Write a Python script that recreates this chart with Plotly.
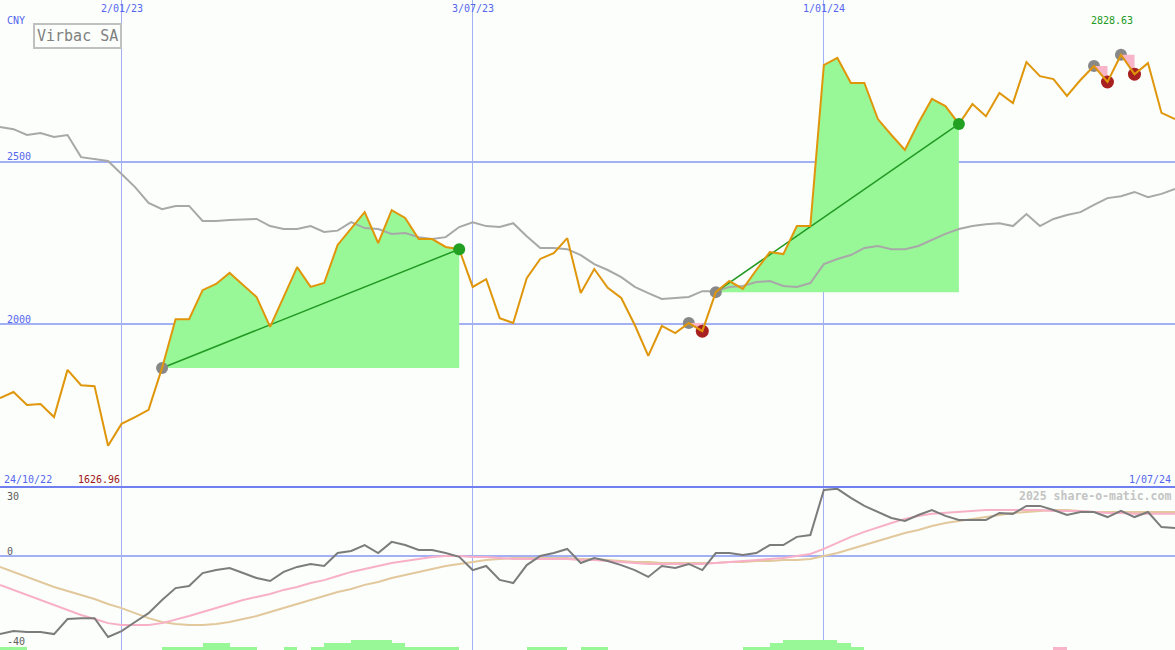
import plotly.graph_objects as go

# ---------------- data (weekly points, index 0 = 24/10/22 ... 87 = 1/07/24) -------------
price = [1773, 1792, 1752, 1755, 1715, 1860, 1813, 1810, 1626.96, 1694,
         1715, 1737, 1866, 2016, 2016, 2105, 2124, 2158, 2121, 2084,
         1992, 2084, 2176, 2115, 2127, 2244, 2293, 2345, 2250, 2351,
         2327, 2262, 2262, 2238, 2231, 2115, 2139, 2019, 2004, 2142,
         2201, 2219, 2265, 2096, 2170, 2112, 2081, 1998, 1903, 1995,
         1973, 2004, 1979, 2099, 2133, 2109, 2167, 2222, 2216, 2302,
         2302, 2797, 2819, 2742, 2742, 2631, 2582, 2536, 2619, 2693,
         2671, 2616, 2677, 2640, 2711, 2680, 2806, 2763, 2754, 2702,
         2751, 2794, 2745, 2828.63, 2769, 2803, 2650, 2631]

moving_avg = [2607, 2600, 2582, 2588, 2576, 2582, 2514, 2508, 2502, 2462,
              2422, 2373, 2354, 2364, 2364, 2318, 2318, 2321, 2322, 2324,
              2302, 2293, 2293, 2302, 2284, 2288, 2314, 2296, 2293, 2278,
              2281, 2268, 2262, 2268, 2299, 2314, 2302, 2299, 2311, 2271,
              2235, 2235, 2231, 2213, 2185, 2167, 2145, 2115, 2096, 2078,
              2081, 2084, 2102, 2102, 2115, 2118, 2130, 2133, 2118, 2115,
              2127, 2185, 2201, 2213, 2235, 2241, 2231, 2231, 2241, 2259,
              2278, 2293, 2302, 2308, 2311, 2302, 2339, 2302, 2324, 2336,
              2345, 2367, 2388, 2394, 2407, 2391, 2401, 2416]

osc = [-34.3, -33.0, -33.4, -33.4, -34.3, -27.7, -27.3, -27.3, -35.6, -33.0,
       -29.0, -25.1, -19.3, -14.1, -13.2, -7.5, -6.2, -5.3, -7.5, -9.7,
       -11.0, -7.0, -4.8, -3.5, -4.4, 1.3, 2.2, 4.8, 1.3, 6.2,
       4.8, 2.6, 2.6, 1.3, -0.4, -6.2, -4.4, -10.5, -11.9, -4.0,
       0.0, 1.3, 3.1, -3.1, -0.9, -2.2, -4.0, -6.2, -9.2, -4.4,
       -5.3, -3.5, -6.2, 1.3, 1.3, 0.4, 1.3, 4.8, 4.8, 8.4,
       9.2, 29.0, 29.5, 25.5, 22.0, 19.3, 16.7, 15.4, 18.0, 20.2,
       17.6, 15.8, 15.8, 15.8, 18.9, 18.5, 22.0, 22.0, 20.2, 18.0,
       19.3, 19.3, 17.1, 19.8, 17.1, 19.3, 12.7, 12.3]

osc_fast = [-12.7, -14.9, -17.1, -19.3, -21.5, -23.7, -25.9, -27.7, -29.5, -30.3,
            -30.3, -30.3, -29.5, -28.1, -26.4, -24.6, -22.9, -21.1, -19.3, -18.0,
            -16.7, -14.9, -13.6, -11.9, -10.6, -8.8, -7.0, -5.7, -4.4, -3.1,
            -2.2, -1.3, -0.4, 0.0, 0.0, -0.4, -0.4, -0.9, -1.3, -1.3,
            -1.3, -1.3, -1.3, -1.8, -1.8, -2.2, -2.6, -3.1, -3.5, -3.5,
            -3.5, -3.5, -3.5, -3.1, -2.6, -2.2, -1.8, -1.3, -0.9, 0.0,
            0.9, 3.1, 5.7, 8.4, 10.6, 12.7, 14.5, 16.3, 17.6, 18.5,
            18.9, 19.3, 19.8, 20.2, 20.2, 20.2, 20.2, 20.2, 19.8, 19.8,
            19.8, 19.3, 18.9, 18.9, 18.5, 18.5, 18.5, 18.5]

osc_slow = [-4.8, -7.0, -9.2, -11.4, -13.6, -15.4, -17.1, -18.9, -21.1, -22.9,
            -25.1, -27.3, -29.0, -29.9, -30.3, -30.3, -29.9, -29.0, -27.7, -26.4,
            -24.6, -22.9, -21.1, -19.3, -17.6, -15.8, -14.5, -12.7, -11.4, -9.7,
            -8.4, -7.0, -5.7, -4.4, -3.5, -2.6, -1.8, -1.3, -0.9, -0.9,
            -0.9, -0.9, -0.9, -1.3, -1.3, -1.8, -2.2, -2.6, -2.6, -3.1,
            -3.1, -3.1, -3.1, -3.1, -2.6, -2.6, -2.2, -2.2, -1.8, -1.8,
            -1.3, 0.0, 1.3, 3.1, 4.8, 6.6, 8.4, 10.1, 11.4, 13.2,
            14.5, 15.4, 16.3, 17.1, 18.0, 18.9, 19.3, 19.8, 20.2, 20.2,
            19.8, 19.3, 19.3, 19.3, 19.3, 19.3, 19.3, 19.3]

# signal strength per week interval (positive = green, negative = pink)
signal = [1, 1, 0, 0, 0, 0, 0, 0, 0, 0,
          0, 0, 1, 1, 1, 2, 2, 1, 1, 0,
          0, 1, 0, 1, 2, 2, 3, 3, 3, 2,
          1, 1, 1, 1, 0, 0, 0, 0, 0, 1,
          1, 1, 0, 1, 1, 0, 0, 0, 0, 0,
          0, 0, 0, 0, 0, 1, 1, 2, 3, 3,
          3, 3, 2, 1, 0, 0, 0, 0, 0, 0,
          0, 0, 0, 0, 0, 0, 0, 0, -1, 0,
          0, 0, 0, 0, 0, 0, 0]

# trends: (start index, end index)
up_trends = [(12, 34), (53, 71)]
# sell signals: (gray index, red index)
sell_signals = [(51, 52), (81, 82), (83, 84)]

date_ticks = [9, 35, 61]
date_labels = ["2/01/23", "3/07/23", "1/01/24"]
first_date, last_date = "24/10/22", "1/07/24"
price_ticks = [2000, 2500]
price_tick_labels = ["2000", "2500"]
osc_tick_labels = ["30", "0", "-40"]
title = "Virbac SA"
currency = "CNY"
high_label = "2828.63"
low_label = "1626.96"
credit = "2025 share-o-matic.com"

# ---------------- figure -------------------------------------------------------------
W, H = 1175, 650
BOT = 163 / 650
BG = "#fbfefb"
GRID = "#a4b0f4"
BLUE = "#5566ee"
ORANGE = "#e0960a"
GREENFILL = "#98f898"
x = list(range(len(price)))

fig = go.Figure()

# green trend fills
for s, e in up_trends:
    xs = x[s:e + 1]
    fig.add_trace(go.Scatter(x=xs, y=[price[s]] * len(xs), mode="lines",
                             line=dict(width=0, color=GREENFILL),
                             xaxis="x2", yaxis="y2", hoverinfo="skip"))
    fig.add_trace(go.Scatter(x=xs, y=price[s:e + 1], mode="lines", fill="tonexty",
                             fillcolor=GREENFILL, line=dict(width=0, color=GREENFILL),
                             xaxis="x2", yaxis="y2", hoverinfo="skip"))

# moving average
fig.add_trace(go.Scatter(x=x, y=moving_avg, mode="lines",
                         line=dict(color="#a8a8a8", width=2),
                         xaxis="x2", yaxis="y2"))

# trend lines
for s, e in up_trends:
    fig.add_trace(go.Scatter(x=[s, e], y=[price[s], price[e]], mode="lines",
                             line=dict(color="#229922", width=1.5),
                             xaxis="x2", yaxis="y2"))

# gray markers (trend starts and sell starts)
gray_idx = [s for s, _ in up_trends] + [g for g, _ in sell_signals]
fig.add_trace(go.Scatter(x=gray_idx, y=[price[i] for i in gray_idx], mode="markers",
                         marker=dict(color="#888888", size=12),
                         xaxis="x2", yaxis="y2"))

# pink triangles
for g, r in sell_signals:
    fig.add_trace(go.Scatter(x=[g, r, r, g], y=[price[g], price[g], price[r], price[g]],
                             mode="lines", fill="toself", fillcolor="#f8b4c8",
                             line=dict(width=0, color="#f8b4c8"),
                             xaxis="x2", yaxis="y2"))

# red markers
red_idx = [r for _, r in sell_signals]
fig.add_trace(go.Scatter(x=red_idx, y=[price[i] for i in red_idx], mode="markers",
                         marker=dict(color="#a82020", size=13),
                         xaxis="x2", yaxis="y2"))

# price line
fig.add_trace(go.Scatter(x=x, y=price, mode="lines",
                         line=dict(color=ORANGE, width=2),
                         xaxis="x2", yaxis="y2"))

# green markers (trend ends)
green_idx = [e for _, e in up_trends]
fig.add_trace(go.Scatter(x=green_idx, y=[price[i] for i in green_idx], mode="markers",
                         marker=dict(color="#22a022", size=12),
                         xaxis="x2", yaxis="y2"))

# bottom panel: signal bars
fig.add_trace(go.Bar(x=[i + 0.5 for i in range(len(signal))],
                     y=[abs(v) for v in signal], width=1,
                     marker=dict(color=[GREENFILL if v > 0 else "#f8b4c8" for v in signal],
                                 line=dict(width=0)),
                     xaxis="x", yaxis="y3"))

fig.add_trace(go.Scatter(x=x, y=osc_slow, mode="lines",
                         line=dict(color="#e2c89c", width=2), xaxis="x", yaxis="y"))
fig.add_trace(go.Scatter(x=x, y=osc_fast, mode="lines",
                         line=dict(color="#f8b0c8", width=2), xaxis="x", yaxis="y"))
fig.add_trace(go.Scatter(x=x, y=osc, mode="lines",
                         line=dict(color="#7c7c7c", width=2), xaxis="x", yaxis="y"))

axis_common = dict(showticklabels=False, zeroline=False, showline=False, ticks="")
xr = [0, len(price) - 1]
fig.update_layout(
    width=W, height=H, margin=dict(l=0, r=0, t=0, b=0),
    paper_bgcolor=BG, plot_bgcolor=BG, showlegend=False, bargap=0,
    xaxis=dict(domain=[0, 1], range=xr, anchor="y", tickvals=date_ticks,
               showgrid=True, gridcolor=GRID, gridwidth=1, **axis_common),
    xaxis2=dict(domain=[0, 1], range=xr, anchor="y2", tickvals=date_ticks,
                showgrid=True, gridcolor=GRID, gridwidth=1, **axis_common),
    yaxis=dict(domain=[0, BOT], range=[-41.3, 30.3], anchor="x", tickvals=[0],
               showgrid=True, gridcolor=GRID, gridwidth=2, **axis_common),
    yaxis2=dict(domain=[BOT, 1], range=[1500, 2997], anchor="x2", tickvals=price_ticks,
                showgrid=True, gridcolor=GRID, gridwidth=2, **axis_common),
    yaxis3=dict(overlaying="y", range=[0, 50], anchor="x", visible=False),
)

# separator line between panels
fig.add_shape(type="line", xref="paper", yref="paper", x0=0, x1=1, y0=BOT, y1=BOT,
              line=dict(color="#7080f0", width=2))


def px(xp, yp):
    return xp / W, 1 - yp / H


MONO = "DejaVu Sans Mono"


def label(text, xp, yp, color, xanchor="left", size=10, font=MONO):
    ax, ay = px(xp, yp)
    fig.add_annotation(text=text, x=ax, y=ay, xref="paper", yref="paper",
                       xanchor=xanchor, yanchor="middle", showarrow=False,
                       font=dict(family=font, size=size, color=color))


for t, lab in zip(date_ticks, date_labels):
    label(lab, t * W / xr[1], 9, BLUE, "center")
label(currency, 5, 21, BLUE)
label(price_tick_labels[1], 5, 156, BLUE)
label(price_tick_labels[0], 5, 319, BLUE)
label(first_date, 2, 479, BLUE)
label(low_label, 122, 479, "#a01818", "right")
label(last_date, 1173, 479, BLUE, "right")
label(high_label, 1112, 21, "#229922", "center")
label(osc_tick_labels[0], 5, 496, "#606060")
label(osc_tick_labels[1], 5, 551, "#606060")
label(osc_tick_labels[2], 5, 641, "#606060")
ax, ay = px(1173, 496)
fig.add_annotation(text="<b>" + credit + "</b>", x=ax, y=ay, xref="paper", yref="paper",
                   xanchor="right", yanchor="middle", showarrow=False,
                   font=dict(family=MONO, size=11.5, color="#c4c4c4"))
ax, ay = px(78, 36)
fig.add_annotation(text=title, x=ax, y=ay, xref="paper", yref="paper",
                   xanchor="center", yanchor="middle", showarrow=False,
                   font=dict(family=MONO, size=15, color="#808080"),
                   bordercolor="#c0c0c0", borderwidth=2, borderpad=2, bgcolor=BG)

fig.write_html("out.html", config={"displayModeBar": False},
               post_script="document.body.style.margin='0px';"
                           "document.body.style.overflow='hidden';")
